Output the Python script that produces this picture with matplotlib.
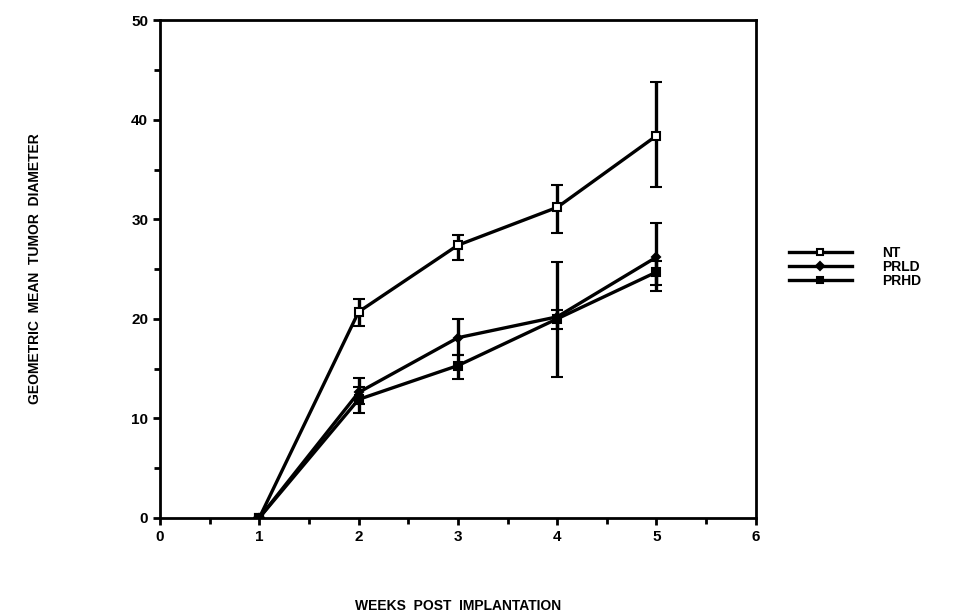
import matplotlib
matplotlib.use("Agg")
import matplotlib.pyplot as plt
import numpy as np

weeks = [1, 2, 3, 4, 5]

nt = [0.0, 20.7, 27.4, 31.2, 38.4]
nt_lo = [0.0, 19.3, 25.9, 28.6, 33.2]
nt_hi = [0.0, 22.0, 28.4, 33.4, 43.8]

prld = [0.0, 12.6, 18.1, 20.2, 26.2]
prld_lo = [0.0, 11.4, 16.4, 14.2, 23.4]
prld_hi = [0.0, 14.1, 20.0, 25.7, 29.6]

prhd = [0.0, 11.9, 15.3, 20.0, 24.7]
prhd_lo = [0.0, 10.5, 14.0, 19.0, 22.8]
prhd_hi = [0.0, 13.1, 16.4, 20.9, 25.8]

plt.rcParams['font.family'] = ['Liberation Sans', 'DejaVu Sans']
plt.rcParams['font.weight'] = 'bold'

fig = plt.figure(figsize=(9.64, 6.15), dpi=100)
ax = fig.add_axes([0.166, 0.158, 0.618, 0.809])


def series(y, lo, hi, marker, face, label, ms):
    y = np.array(y)
    err = [y - np.array(lo), np.array(hi) - y]
    c = ax.errorbar(weeks, y, yerr=err, color='black', lw=2.4, elinewidth=2.4,
                    capsize=4, capthick=2.4, marker=marker, ms=ms,
                    mfc=face, mec='black', mew=1.5, label=label)
    return c.lines[0]


handles = [
    series(nt, nt_lo, nt_hi, 's', 'white', 'NT', 6),
    series(prld, prld_lo, prld_hi, 'D', 'black', 'PRLD', 4.5),
    series(prhd, prhd_lo, prhd_hi, 's', 'black', 'PRHD', 6),
]

ax.set_xlim(0, 6)
ax.set_ylim(0, 50)
ax.set_xticks(range(0, 7))
ax.set_xticks(np.arange(0.5, 6, 1), minor=True)
ax.set_yticks(range(0, 51, 10))
ax.set_yticks(range(5, 50, 10), minor=True)
ax.tick_params(which='both', direction='out', top=False, right=False,
               width=2, labelsize=11)
ax.tick_params(which='major', length=5)
ax.tick_params(which='minor', length=4)
for s in ax.spines.values():
    s.set_linewidth(2)

ax.set_xlabel('WEEKS  POST  IMPLANTATION', fontsize=10, fontweight='bold',
              labelpad=40)
ax.set_ylabel('GEOMETRIC  MEAN  TUMOR  DIAMETER', fontsize=10,
              fontweight='bold', labelpad=64)

ax.legend(handles=handles, labels=['NT', 'PRLD', 'PRHD'],
          loc='center left', bbox_to_anchor=(1.035, 0.505), frameon=False,
          handlelength=4.5, fontsize=10, labelspacing=0.0, handletextpad=2.2,
          markerscale=0.8)

fig.savefig('out.png', dpi=100)
